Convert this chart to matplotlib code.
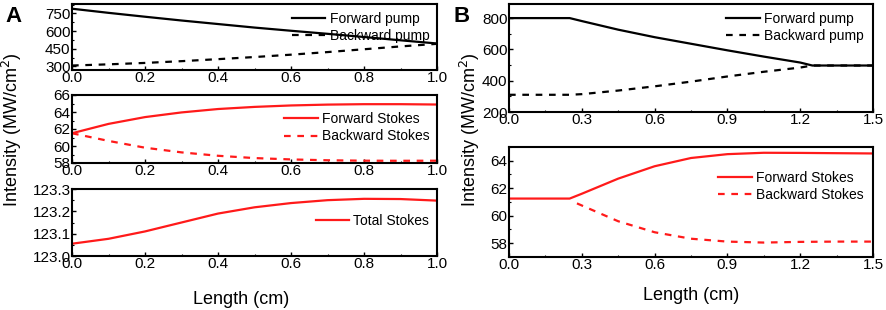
import matplotlib
matplotlib.use('Agg')
import matplotlib.pyplot as plt
from matplotlib.ticker import MultipleLocator, AutoMinorLocator

plt.rcParams['font.family'] = ['Liberation Sans', 'DejaVu Sans']
plt.rcParams['xtick.direction'] = 'in'
plt.rcParams['ytick.direction'] = 'in'

# ---- panel A data (crystal length 1 cm)
xa = [0.0, 0.1, 0.2, 0.3, 0.4, 0.5, 0.6, 0.7, 0.8, 0.9, 1.0]
a_fwd_pump = [790, 755, 722, 690, 660, 630, 603, 577, 550, 522, 495]
a_bwd_pump = [308, 318, 330, 345, 362, 380, 400, 422, 446, 470, 492]
a_fwd_stokes = [61.5, 62.6, 63.4, 63.95, 64.35, 64.6, 64.77, 64.87, 64.92, 64.92, 64.88]
a_bwd_stokes = [61.5, 60.6, 59.8, 59.25, 58.85, 58.58, 58.42, 58.32, 58.27, 58.26, 58.27]
a_total = [123.055, 123.077, 123.11, 123.15, 123.19, 123.218, 123.237, 123.25, 123.256, 123.255, 123.248]

# ---- panel B data (with free space before/after crystal)
xb_pump = [0.0, 0.25, 0.3, 0.45, 0.6, 0.75, 0.9, 1.05, 1.2, 1.25, 1.5]
b_fwd_pump = [800, 800, 781, 726, 678, 636, 594, 554, 516, 497, 497]
b_bwd_pump = [310, 310, 314, 337, 364, 394, 427, 457, 484, 497, 497]
xb_fs = [0.0, 0.25, 0.3, 0.45, 0.6, 0.75, 0.9, 1.05, 1.2, 1.35, 1.5]
b_fwd_stokes = [61.25, 61.25, 61.6, 62.7, 63.6, 64.2, 64.48, 64.58, 64.57, 64.55, 64.53]
xb_bs = [0.28, 0.45, 0.6, 0.75, 0.9, 1.05, 1.2, 1.35, 1.5]
b_bwd_stokes = [60.9, 59.6, 58.8, 58.33, 58.12, 58.05, 58.1, 58.12, 58.12]

W, H = 886, 310
fig = plt.figure(figsize=(W / 100, H / 100), dpi=100)

def box(l, t, r, b):
    return fig.add_axes([l / W, 1 - b / H, (r - l) / W, (b - t) / H])

def style(ax):
    for s in ax.spines.values():
        s.set_linewidth(1.5)
    ax.tick_params(labelsize=11, length=3, width=1, pad=1)
    ax.tick_params(which='minor', length=1.5, width=0.8)
    ax.xaxis.set_minor_locator(AutoMinorLocator(2))
    ax.yaxis.set_minor_locator(AutoMinorLocator(2))

RED = '#ff1a1a'
lw = 1.6
dash = (3, 3)
leg = dict(frameon=False, fontsize=10, handlelength=2.4, borderaxespad=0.15,
           labelspacing=0.25, handletextpad=0.3)

# A top
ax1 = box(72, 4, 437, 70)
ax1.plot(xa, a_fwd_pump, color='k', lw=lw, label='Forward pump')
ax1.plot(xa, a_bwd_pump, color='k', lw=lw, dashes=dash, label='Backward pump')
ax1.set_xlim(0, 1)
ax1.set_ylim(270, 830)
ax1.set_yticks([300, 450, 600, 750])
ax1.xaxis.set_major_locator(MultipleLocator(0.2))
ax1.legend(loc='upper right', **leg)
style(ax1)

# A middle
ax2 = box(72, 95, 437, 163)
ax2.plot(xa, a_fwd_stokes, color=RED, lw=lw, label='Forward Stokes')
ax2.plot(xa, a_bwd_stokes, color=RED, lw=lw, dashes=dash, label='Backward Stokes')
ax2.set_xlim(0, 1)
ax2.set_ylim(58, 66)
ax2.set_yticks([58, 60, 62, 64, 66])
ax2.xaxis.set_major_locator(MultipleLocator(0.2))
ax2.legend(loc='center right', bbox_to_anchor=(1, 0.52), **leg)
style(ax2)

# A bottom
ax3 = box(72, 189, 437, 256)
ax3.plot(xa, a_total, color=RED, lw=lw, label='Total Stokes')
ax3.set_xlim(0, 1)
ax3.set_ylim(123.0, 123.3)
ax3.set_yticks([123.0, 123.1, 123.2, 123.3])
ax3.xaxis.set_major_locator(MultipleLocator(0.2))
ax3.legend(loc='center right', bbox_to_anchor=(1, 0.52), **leg)
style(ax3)

# B top
ax4 = box(509, 4, 873, 112)
ax4.plot(xb_pump, b_fwd_pump, color='k', lw=lw, label='Forward pump')
ax4.plot(xb_pump, b_bwd_pump, color='k', lw=lw, dashes=dash, label='Backward pump')
ax4.set_xlim(0, 1.5)
ax4.set_ylim(200, 890)
ax4.set_yticks([200, 400, 600, 800])
ax4.xaxis.set_major_locator(MultipleLocator(0.3))
ax4.legend(loc='upper right', bbox_to_anchor=(0.995, 1.0), **leg)
style(ax4)

# B bottom
ax5 = box(509, 147, 873, 257)
ax5.plot(xb_fs, b_fwd_stokes, color=RED, lw=lw, label='Forward Stokes')
ax5.plot(xb_bs, b_bwd_stokes, color=RED, lw=lw, dashes=dash, label='Backward Stokes')
ax5.set_xlim(0, 1.5)
ax5.set_ylim(57, 65)
ax5.set_yticks([58, 60, 62, 64])
ax5.xaxis.set_major_locator(MultipleLocator(0.3))
ax5.legend(loc='center right', bbox_to_anchor=(0.995, 0.64), **leg)
style(ax5)

for ax in (ax1, ax2, ax3, ax4, ax5):
    ax.xaxis.set_major_formatter(plt.FormatStrFormatter('%.1f'))
ax3.yaxis.set_major_formatter(plt.FormatStrFormatter('%.1f'))

ylab = 'Intensity (MW/cm$^2$)'
fig.text(12 / W, 1 - 130 / H, ylab, rotation=90, ha='center', va='center', fontsize=13)
fig.text(470 / W, 1 - 130 / H, ylab, rotation=90, ha='center', va='center', fontsize=13)
fig.text(241 / W, 1 - 299 / H, 'Length (cm)', ha='center', va='center', fontsize=13)
fig.text(691 / W, 1 - 295 / H, 'Length (cm)', ha='center', va='center', fontsize=13)
fig.text(14 / W, 1 - 16 / H, 'A', ha='center', va='center', fontsize=16, fontweight='bold')
fig.text(462 / W, 1 - 16 / H, 'B', ha='center', va='center', fontsize=16, fontweight='bold')

fig.savefig('out.png', dpi=100)
